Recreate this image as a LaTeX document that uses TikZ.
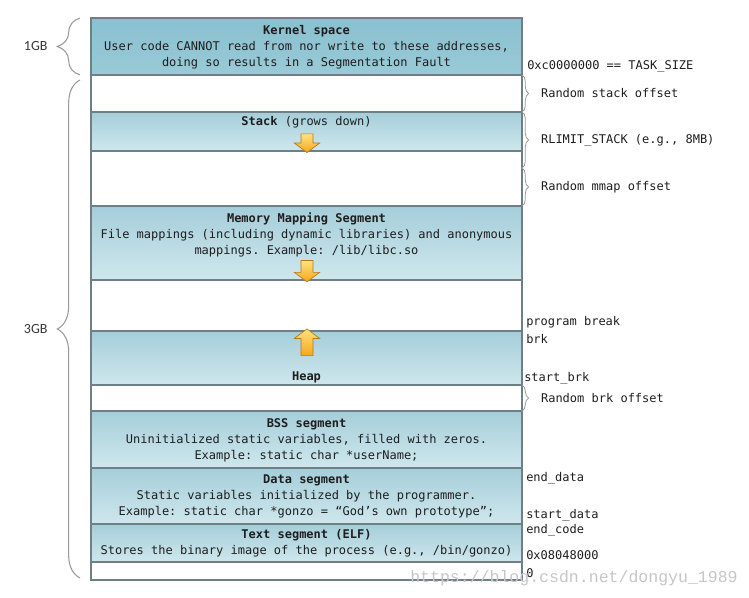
\documentclass[tikz,border=0pt]{standalone}
\usepackage{fontspec}
\setmonofont{DejaVu Sans Mono}
\newfontfamily\sizefont{Carlito}
\newfontfamily\markfont{Liberation Mono}
\usetikzlibrary{positioning}
\usetikzlibrary{shapes.arrows}
\usetikzlibrary{decorations.pathreplacing}

\definecolor{kerneltop}{HTML}{8AC0D0}
\definecolor{kernelbottom}{HTML}{99CAD7}
\definecolor{segtop}{HTML}{A5CEDA}
\definecolor{segbottom}{HTML}{CFE7ED}
\definecolor{segline}{HTML}{6F7F86}
\definecolor{bracegray}{HTML}{9A9A9A}
\definecolor{textgray}{HTML}{1E1E1E}
\definecolor{sizegray}{HTML}{383838}
\definecolor{markgray}{HTML}{C6C6C6}
\definecolor{arrowtop}{HTML}{FFE27E}
\definecolor{arrowbottom}{HTML}{F5A61C}
\definecolor{arrowline}{HTML}{B27A1C}

\begin{document}
\begin{tikzpicture}[x=0.75pt, y=-0.75pt]
	\tikzstyle{seg} = [draw=segline, line width=1pt, rectangle, minimum width=323.25pt, inner sep=0pt, outer sep=0pt, top color=segtop, bottom color=segbottom]
	\tikzstyle{kernelseg} = [seg, top color=kerneltop, bottom color=kernelbottom]
	\tikzstyle{gapseg} = [draw=segline, line width=1pt, rectangle, minimum width=323.25pt, inner sep=0pt, outer sep=0pt, fill=white]
	\tikzstyle{segtext} = [font=\ttfamily\fontsize{9}{12}\selectfont, align=center, text=textgray, inner sep=0pt]
	\tikzstyle{addr} = [font=\ttfamily\fontsize{9}{11}\selectfont, text=textgray, anchor=west, inner sep=0pt]
	\tikzstyle{sizelabel} = [font=\sizefont\fontsize{10.5}{12}\selectfont, text=sizegray, inner sep=0pt]
	\tikzstyle{growarrow} = [single arrow, draw=arrowline, line width=0.5pt, top color=arrowtop, bottom color=arrowbottom, inner sep=4.2pt, single arrow head extend=5pt, single arrow tip angle=106]
	\tikzstyle{lbrace} = [draw=bracegray, line width=0.8pt, decorate, decoration={brace, amplitude=17pt}]
	\tikzstyle{rbrace} = [draw=bracegray, line width=0.6pt, decorate, decoration={brace, amplitude=5pt}]
	\useasboundingbox (0,0) rectangle (749,598);

	% segments, top to bottom
	\node[kernelseg, minimum height=42.75pt, anchor=north west] (kernel) at (91,18) {};
	\node[gapseg, minimum height=27.75pt, below=0pt of kernel] (stackgap) {};
	\node[seg, minimum height=29.25pt, below=0pt of stackgap] (stack) {};
	\node[gapseg, minimum height=41.25pt, below=0pt of stack] (mmapgap) {};
	\node[seg, minimum height=55.5pt, below=0pt of mmapgap] (mmap) {};
	\node[gapseg, minimum height=38.25pt, below=0pt of mmap] (heapgap) {};
	\node[seg, minimum height=40.5pt, below=0pt of heapgap] (heap) {};
	\node[gapseg, minimum height=19.5pt, below=0pt of heap] (brkgap) {};
	\node[seg, minimum height=42.75pt, below=0pt of brkgap] (bss) {};
	\node[seg, minimum height=42pt, below=0pt of bss] (data) {};
	\node[seg, minimum height=28.5pt, below=0pt of data] (text) {};
	\node[gapseg, minimum height=13.5pt, below=0pt of text] (nullgap) {};

	% texts inside
	\node[segtext] (kerneltext) at (306.5,47) {\textbf{Kernel space}\\User code CANNOT read from nor write to these addresses,\\doing so results in a Segmentation Fault};
	\node[segtext] (stacktext) at (306.5,122) {\textbf{Stack} (grows down)};
	\node[segtext] (mmaptext) at (306.5,234.5) {\textbf{Memory Mapping Segment}\\File mappings (including dynamic libraries) and anonymous\\mappings. Example: /lib/libc.so};
	\node[segtext] (heaptext) at (306.5,377) {\textbf{Heap}};
	\node[segtext] (bsstext) at (306.5,440) {\textbf{BSS segment}\\Uninitialized static variables, filled with zeros.\\Example: static char *userName;};
	\node[segtext] (datatext) at (306.5,496) {\textbf{Data segment}\\Static variables initialized by the programmer.\\Example: static char *gonzo = “God’s own prototype”;};
	\node[segtext] (texttext) at (306.5,543) {\textbf{Text segment (ELF)}\\Stores the binary image of the process (e.g., /bin/gonzo)};

	% growth arrows
	\node[growarrow, shape border rotate=270, minimum height=14pt] (stackarrow) at (307,141) {};
	\node[growarrow, shape border rotate=270, minimum height=16pt] (mmaparrow) at (307,269) {};
	\node[growarrow, shape border rotate=90, minimum height=20pt] (heaparrow) at (307,344.5) {};

	% sizes on the left
	\draw[lbrace] ([xshift=-8.25pt]kernel.south west) -- ([xshift=-8.25pt]kernel.north west)
	  node[sizelabel, midway, left=24pt] (onegb) {1GB};
	\draw[lbrace] ([xshift=-8.25pt, yshift=1.5pt]nullgap.south west) -- ([xshift=-8.25pt, yshift=-3.75pt]stackgap.north west)
	  node[sizelabel, midway, left=24pt] (threegb) {3GB};

	% offsets on the right
	\coordinate (rlimit) at ([yshift=-12.75pt]stack.south east);
	\draw[rbrace] (stackgap.north east) -- (stackgap.south east)
	  node[addr, midway, xshift=14pt] (stackoff) {Random stack offset};
	\draw[rbrace] (stack.north east) -- (rlimit)
	  node[addr, midway, xshift=14pt] (rlimitlabel) {RLIMIT\_STACK (e.g., 8MB)};
	\draw[rbrace] (rlimit) -- (mmap.north east)
	  node[addr, midway, xshift=14pt] (mmapoff) {Random mmap offset};
	\draw[rbrace] (brkgap.north east) -- (brkgap.south east)
	  node[addr, midway, xshift=14pt] (brkoff) {Random brk offset};

	% addresses
	\node[addr] (tasksize) at (527,66) {0xc0000000 == TASK\_SIZE};
	\node[addr] (progbreak) at (526,322) {program break};
	\node[addr] (brk) at (526,339) {brk};
	\node[addr] (startbrk) at (524,378) {start\_brk};
	\node[addr] (enddata) at (526,478) {end\_data};
	\node[addr] (startdata) at (526,515) {start\_data};
	\node[addr] (endcode) at (526,530) {end\_code};
	\node[addr] (textstart) at (526,555) {0x08048000};
	\node[addr] (zero) at (526,573) {0};

	\node[font=\markfont\fontsize{12.4}{14}\selectfont, text=markgray, anchor=west, inner sep=0pt] (watermark) at (410,578) {https://blog.csdn.net/dongyu\_1989};
\end{tikzpicture}
\end{document}
